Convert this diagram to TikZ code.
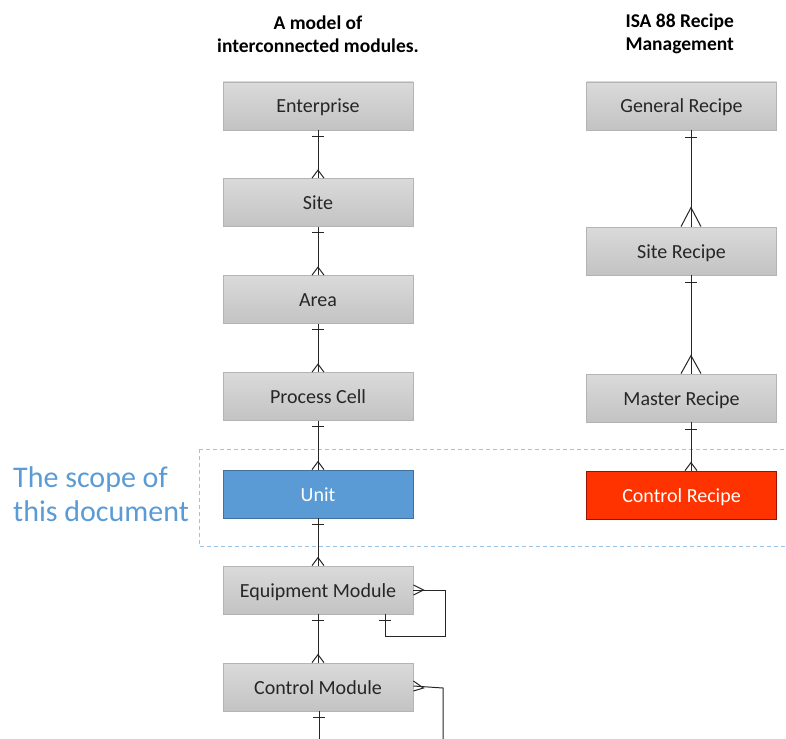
\documentclass[tikz,border=0pt]{standalone}
\usepackage{fontspec}
\setmainfont{Carlito}
\definecolor{boxtop}{HTML}{DADADA}
\definecolor{boxbot}{HTML}{C3C3C3}
\definecolor{boxline}{HTML}{B4B4B4}
\definecolor{unitfill}{HTML}{5B9BD5}
\definecolor{unitline}{HTML}{41719C}
\definecolor{recipefill}{HTML}{FF3300}
\definecolor{recipeline}{HTML}{A01000}
\definecolor{scopeblue}{HTML}{5B9BD5}
\definecolor{scopeline}{HTML}{9DC3E6}
\definecolor{txt}{HTML}{262626}
\begin{document}
\begin{tikzpicture}[x=1pt,y=-1pt,
  entity/.style={rectangle,minimum width=190pt,minimum height=48pt,inner sep=0pt,
    text height=16pt,text depth=2pt,
    draw=boxline,line width=0.8pt,top color=boxtop,bottom color=boxbot,
    text=txt,font=\fontsize{20}{22}\selectfont},
  unitbox/.style={entity,fill=unitfill,draw=unitline,top color=unitfill,bottom color=unitfill,text=white},
  recipebox/.style={entity,fill=recipefill,draw=recipeline,top color=recipefill,bottom color=recipefill,text=white},
  title/.style={font=\bfseries\fontsize{19.5}{23.5}\selectfont,text=black},
  conn/.style={draw=black!85,line width=1pt},
]
\useasboundingbox (0,0) rectangle (786,738);

% headings
\node[title,align=center] (lefttitle) at (318,34) {A model of\\interconnected modules.};
\node[title,align=left,anchor=west] (righttitle) at (622,34) {ISA 88 Recipe\\Management};

% scope frame and its label
\draw[scopeline,line width=0.8pt,dash pattern=on 4pt off 3pt] (199,449) -- (790,449);
\draw[scopeline,line width=0.8pt,dash pattern=on 4pt off 3pt] (199,449) -- (199,546) -- (790,546);
\node[anchor=west,align=left,text=scopeblue,font=\fontsize{30}{34}\selectfont,inner sep=0pt]
  (scope) at (13,494) {The scope of\\this document};

% physical model
\node[entity] (ent)  at (318,106)   {Enterprise};
\node[entity] (site) at (318,202.5) {Site};
\node[entity] (area) at (318,299.5) {Area};
\node[entity] (pc)   at (318,396.5) {Process Cell};
\node[unitbox] (unit) at (318,494)  {Unit};
\node[entity] (em)   at (318,590)   {Equipment Module};
\node[entity] (cm)   at (318,687)   {Control Module};

% recipe model
\node[entity] (gr) at (681.5,106) {General Recipe};
\node[entity] (sr) at (681.5,251) {Site Recipe};
\node[entity] (mr) at (681.5,398) {Master Recipe};
\node[recipebox] (cr) at (681.5,495) {Control Recipe};

% one-to-many links on the left column
\foreach \p/\c in {ent/site,site/area,area/pc,pc/unit,unit/em,em/cm}{
  \draw[conn] (\p.south) -- (\c.north);
  \draw[conn] ([shift={(-6,6)}]\p.south) -- ([shift={(6,6)}]\p.south);
  \draw[conn] ([shift={(-6,0)}]\c.north) -- ([shift={(0,-8)}]\c.north) -- ([shift={(6,0)}]\c.north);
}

% one-to-many links on the right column
\foreach \p/\c/\h/\w in {gr/sr/19/10,sr/mr/18/10,mr/cr/8/6}{
  \draw[conn] ([xshift=9.5pt]\p.south) -- ([xshift=9.5pt]\c.north);
  \draw[conn] ([shift={(3.5,7)}]\p.south) -- ([shift={(15.5,7)}]\p.south);
  \draw[conn] ([shift={(9.5-\w,0)}]\c.north) -- ([shift={(9.5,-\h)}]\c.north) -- ([shift={(9.5+\w,0)}]\c.north);
}

% equipment module contains equipment modules
\coordinate (emr) at (em.east);
\coordinate (emloop) at (445,636);
\draw[conn] (emr) -- (445,590) -- (emloop) -- (385,636) -- (385,614);
\draw[conn] (379,620) -- (391,620);
\draw[conn] ([yshift=-5pt]emr) -- ([xshift=10pt]emr) -- ([yshift=5pt]emr);

% control module contains control modules
\coordinate (cmr) at (cm.east);
\coordinate (cmdown) at (443,740);
\draw[conn] ([yshift=1pt]cmr) -- (443,688) -- (cmdown);
\draw[conn] ([yshift=-4pt]cmr) -- ([shift={(10,1)}]cmr) -- ([yshift=6pt]cmr);
\coordinate (cmbelow) at (319,740);
\draw[conn] ([xshift=1pt]cm.south) -- (cmbelow);
\draw[conn] (313,717) -- (325,717);
\end{tikzpicture}
\end{document}
